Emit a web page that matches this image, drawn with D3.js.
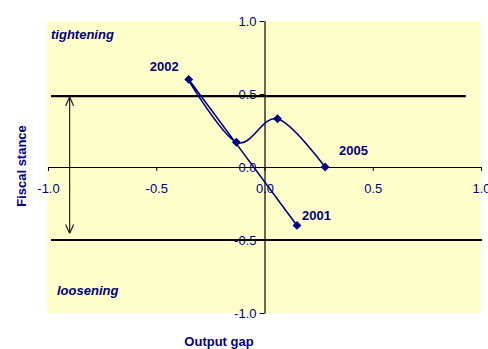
<!DOCTYPE html>
<html>
<head>
<meta charset="utf-8">
<script src="https://cdnjs.cloudflare.com/ajax/libs/d3/7.8.5/d3.min.js"></script>
<style>
  body { margin: 0; background: #fff; }
  svg text { font-family: "Liberation Sans", Arial, sans-serif; }
</style>
</head>
<body>
<div id="chart"></div>
<script>

// Data
var years = ['2001', '2002', '2003', '2004', '2005'];
var outputGap = [0.15, -0.35, -0.13, 0.06, 0.28];
var fiscalStance = [-0.40, 0.60, 0.17, 0.33, 0.00];
var labelledYears = ['2001', '2002', '2005'];
var xTicks = [-1.0, -0.5, 0.0, 0.5, 1.0];
var yTicks = [-1.0, -0.5, 0.0, 0.5, 1.0];
var bandLines = [0.485, -0.5];

function renderChart() {

  // Exposed variables
  var attrs = {
    svgWidth: 488,
    svgHeight: 349,
    marginTop: 21,
    marginBottom: 36,
    marginLeft: 48,
    marginRight: 7,
    fontSize: 13,
    navy: '#000080',
    plotFill: '#FFFFCC',
    container: '#chart'
  };

  //Calculated properties
  var calc = {};
  calc.chartWidth = attrs.svgWidth - attrs.marginLeft - attrs.marginRight;
  calc.chartHeight = attrs.svgHeight - attrs.marginTop - attrs.marginBottom;

  //Scales
  var scales = {};
  scales.x = d3.scaleLinear().domain([-1, 1]).range([attrs.marginLeft, attrs.marginLeft + calc.chartWidth]);
  scales.y = d3.scaleLinear().domain([-1, 1]).range([attrs.marginTop + calc.chartHeight, attrs.marginTop]);

  // plain hyphen for negatives, like the original
  var tickFmt = function (d) { return d3.format('.1f')(d).replace('\u2212', '-'); };

  var points = years.map(function (d, i) {
    return { year: d, x: outputGap[i], y: fiscalStance[i] };
  });

  //Add svg
  var svg = d3.select(attrs.container).append('svg')
    .attr('width', attrs.svgWidth)
    .attr('height', attrs.svgHeight);

  var defs = svg.append('defs');
  defs.append('marker')
    .attr('id', 'openArrow')
    .attr('viewBox', '0 0 10 10')
    .attr('refX', 10).attr('refY', 5)
    .attr('markerWidth', 10).attr('markerHeight', 10)
    .attr('markerUnits', 'userSpaceOnUse')
    .attr('orient', 'auto-start-reverse')
    .append('path')
    .attr('d', 'M1,1 L10,5 L1,9')
    .attr('fill', 'none')
    .attr('stroke', '#222')
    .attr('stroke-width', 1.2);

  //plot background
  svg.append('rect')
    .attr('x', scales.x(-1) - 1)
    .attr('y', scales.y(1))
    .attr('width', scales.x(1) - scales.x(-1) + 1)
    .attr('height', scales.y(-1) - scales.y(1))
    .attr('fill', attrs.plotFill);

  //x axis through zero
  var xAxis = svg.append('g')
    .attr('transform', 'translate(0,' + scales.y(0) + ')')
    .call(d3.axisBottom(scales.x).tickValues(xTicks).tickFormat(tickFmt).tickSizeInner(4).tickSizeOuter(0));

  //y axis through zero
  var yAxis = svg.append('g')
    .attr('transform', 'translate(' + scales.x(0) + ',0)')
    .call(d3.axisLeft(scales.y).tickValues(yTicks).tickFormat(tickFmt).tickSizeInner(5).tickSizeOuter(0));

  [xAxis, yAxis].forEach(function (ax) {
    ax.select('.domain').attr('stroke', '#000').attr('stroke-width', 1.2);
    ax.selectAll('.tick line').attr('stroke', '#000');
    ax.selectAll('.tick text')
      .attr('fill', attrs.navy)
      .attr('font-size', attrs.fontSize)
      .attr('font-family', '"Liberation Sans", Arial, sans-serif');
  });
  xAxis.selectAll('.tick text').attr('dy', '0.71em').attr('y', 17);
  yAxis.selectAll('.tick text').attr('x', -8);

  //band lines
  svg.append('line')
    .attr('x1', scales.x(-0.986)).attr('x2', scales.x(0.93))
    .attr('y1', scales.y(bandLines[0])).attr('y2', scales.y(bandLines[0]))
    .attr('stroke', '#000').attr('stroke-width', 2.2);
  svg.append('line')
    .attr('x1', scales.x(-0.986)).attr('x2', scales.x(1.005))
    .attr('y1', scales.y(bandLines[1])).attr('y2', scales.y(bandLines[1]))
    .attr('stroke', '#000').attr('stroke-width', 2.2);

  //double arrow
  svg.append('line')
    .attr('x1', scales.x(-0.9)).attr('x2', scales.x(-0.9))
    .attr('y1', scales.y(0.48)).attr('y2', scales.y(-0.455))
    .attr('stroke', '#222').attr('stroke-width', 1.2)
    .attr('marker-start', 'url(#openArrow)')
    .attr('marker-end', 'url(#openArrow)');

  //smoothed series line
  var line = d3.line()
    .x(function (d) { return scales.x(d.x); })
    .y(function (d) { return scales.y(d.y); })
    .curve(d3.curveCardinal.tension(0));

  svg.append('path')
    .datum(points)
    .attr('d', line)
    .attr('fill', 'none')
    .attr('stroke', attrs.navy)
    .attr('stroke-width', 1.6);

  //markers
  svg.selectAll('.marker')
    .data(points)
    .enter().append('path')
    .attr('class', 'marker')
    .attr('d', d3.symbol().type(d3.symbolSquare).size(40))
    .attr('transform', function (d) {
      return 'translate(' + scales.x(d.x) + ',' + scales.y(d.y) + ') rotate(45)';
    })
    .attr('fill', attrs.navy);

  //year labels
  var labelOffsets = {
    '2001': [5, -5, 'start'],
    '2002': [-10, -8, 'end'],
    '2005': [14, -12, 'start']
  };
  svg.selectAll('.year-label')
    .data(points.filter(function (d) { return labelledYears.indexOf(d.year) > -1; }))
    .enter().append('text')
    .attr('class', 'year-label')
    .attr('x', function (d) { return scales.x(d.x) + labelOffsets[d.year][0]; })
    .attr('y', function (d) { return scales.y(d.y) + labelOffsets[d.year][1]; })
    .attr('text-anchor', function (d) { return labelOffsets[d.year][2]; })
    .attr('font-size', attrs.fontSize)
    .attr('font-weight', 'bold')
    .attr('fill', attrs.navy)
    .text(function (d) { return d.year; });

  //region labels
  svg.append('text')
    .attr('x', 51).attr('y', 39)
    .attr('font-size', attrs.fontSize).attr('font-weight', 'bold').attr('font-style', 'italic')
    .attr('fill', attrs.navy)
    .text('tightening');
  svg.append('text')
    .attr('x', 57).attr('y', 295)
    .attr('font-size', attrs.fontSize).attr('font-weight', 'bold').attr('font-style', 'italic')
    .attr('fill', attrs.navy)
    .text('loosening');

  //axis titles
  svg.append('text')
    .attr('transform', 'translate(26,166) rotate(-90)')
    .attr('text-anchor', 'middle')
    .attr('font-size', attrs.fontSize).attr('font-weight', 'bold')
    .attr('fill', attrs.navy)
    .text('Fiscal stance');
  svg.append('text')
    .attr('x', 219).attr('y', 346)
    .attr('text-anchor', 'middle')
    .attr('font-size', attrs.fontSize).attr('font-weight', 'bold')
    .attr('fill', attrs.navy)
    .text('Output gap');
}

renderChart();
</script>
</body>
</html>
